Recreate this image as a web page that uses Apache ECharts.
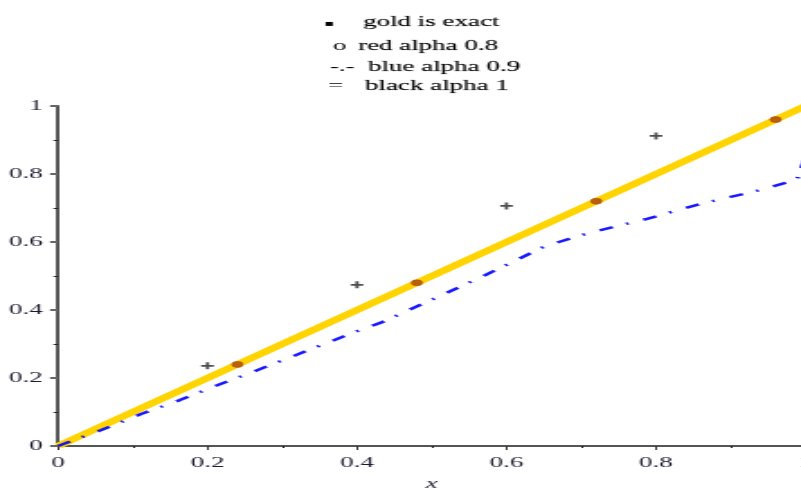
<!DOCTYPE html>
<html>
<head>
<meta charset="utf-8">
<script src="https://cdn.jsdelivr.net/npm/echarts@6/dist/echarts.min.js"></script>
<style>
  html, body { margin: 0; padding: 0; background: #fff; overflow: hidden; }
  #wrap { width: 801px; height: 490px; overflow: hidden; }
  /* the plot is laid out narrow and widened horizontally */
  #chart { width: 460px; height: 490px; transform: scaleX(1.8); transform-origin: 0 0; }
</style>
</head>
<body>
<div id="wrap"><div id="chart"></div></div>
<script>
// exact solution (gold)
const exactX = [0, 1];
const exactY = [0, 1];
// red approximation, alpha 0.8
const redX = [0.24, 0.48, 0.72, 0.96];
const redY = [0.24, 0.48, 0.72, 0.96];
// blue approximation, alpha 0.9
const blueX = [0, 0.058, 0.111, 0.163, 0.21, 0.268, 0.335, 0.404, 0.431, 0.505, 0.572, 0.605, 0.652, 0.709, 0.788, 0.859, 0.934, 0.973, 0.989, 1.0];
const blueY = [0, 0.047, 0.094, 0.135, 0.176, 0.224, 0.282, 0.341, 0.362, 0.435, 0.503, 0.538, 0.588, 0.626, 0.668, 0.712, 0.75, 0.774, 0.785, 0.85];
// black approximation, alpha 1
const blackX = [0.2, 0.4, 0.6, 0.8];
const blackY = [0.236, 0.474, 0.706, 0.912];
// legend rows
const legendSymbols = ['\u25AA', 'o', '-.-', '='];
const legendLabels = ['gold is exact', 'red alpha 0.8', 'blue alpha 0.9', 'black alpha 1'];
const axisName = 'x';

const SX = 1.8;
const W = 460;
const zip = (xs, ys) => xs.map((x, i) => [x, ys[i]]);
const serif = '"Liberation Serif", "Times New Roman", serif';
const textColor = '#1c1c30';

// legend text block (x positions given in widened pixels)
const symLeft = [324, 333, 330, 328];
const labelLeft = [363, 358, 368, 365];
const rowY = [22, 46, 67, 86];
const legendGraphics = [];
legendSymbols.forEach((s, i) => {
  legendGraphics.push({
    type: 'text', x: symLeft[i] / SX, y: rowY[i] + (i === 0 ? 2 : 0),
    style: { text: s, fill: '#000', align: 'left', verticalAlign: 'middle',
      fontFamily: i === 0 ? 'DejaVu Sans' : serif, fontSize: i === 0 ? 8 : 15 }
  });
  legendGraphics.push({
    type: 'text', x: labelLeft[i] / SX, y: rowY[i],
    style: { text: legendLabels[i], fill: '#000', align: 'left', verticalAlign: 'middle',
      fontFamily: serif, fontSize: 15, stroke: 'rgba(0,0,0,0.35)', lineWidth: 0.4 }
  });
});

const crossPath = 'path://M3,0H5V3H8V5H5V8H3V5H0V3H3Z';

const chart = echarts.init(document.getElementById('chart'));
chart.setOption({
  animation: false,
  backgroundColor: '#fff',
  grid: { left: 58 / SX, right: W - 805.5 / SX, top: 106, bottom: 44, outerBoundsMode: 'none', containLabel: false },
  xAxis: {
    type: 'value', min: 0, max: 1, interval: 0.2,
    name: axisName, nameLocation: 'middle', nameGap: 31,
    nameTextStyle: { fontFamily: serif, fontStyle: 'italic', fontSize: 15, color: textColor },
    axisLine: { show: true, onZero: true, lineStyle: { color: '#555', width: 2 } },
    axisTick: { show: true, inside: false, length: 4, lineStyle: { color: '#333', width: 1 } },
    minorTick: { show: true, splitNumber: 2, length: 2, lineStyle: { color: '#222', width: 1 } },
    axisLabel: { margin: 10, fontFamily: serif, fontSize: 15, color: textColor, showMinLabel: true, showMaxLabel: true, hideOverlap: false },
    splitLine: { show: false }
  },
  yAxis: {
    type: 'value', min: 0, max: 1, interval: 0.2,
    axisLine: { show: true, onZero: true, lineStyle: { color: '#555', width: 2 } },
    axisTick: { show: true, inside: false, length: 4.4, lineStyle: { color: '#666', width: 2 } },
    minorTick: { show: true, splitNumber: 2, length: 2.5, lineStyle: { color: '#222', width: 1 } },
    axisLabel: { margin: 8.5, fontFamily: serif, fontSize: 15, color: textColor },
    splitLine: { show: false }
  },
  graphic: legendGraphics,
  series: [
    {
      name: 'gold is exact', type: 'line', data: zip(exactX, exactY),
      showSymbol: false, symbol: 'none', z: 1,
      lineStyle: { color: '#FFD400', width: 6, cap: 'butt' }
    },
    {
      name: 'red alpha 0.8', type: 'scatter', data: zip(redX, redY),
      symbol: 'circle', symbolSize: 6, z: 3,
      itemStyle: { color: 'rgba(140,35,10,0.8)', borderColor: 'rgba(190,70,20,0.8)', borderWidth: 1 }
    },
    {
      name: 'blue alpha 0.9', type: 'line', data: zip(blueX, blueY),
      showSymbol: false, symbol: 'none', z: 2,
      lineStyle: { color: 'rgba(0,0,255,0.9)', width: 2.5, type: [8, 8, 1.5, 9], cap: 'butt' }
    },
    {
      name: 'black alpha 1', type: 'scatter', data: zip(blackX, blackY),
      symbol: crossPath, symbolSize: 7, z: 4,
      itemStyle: { color: '#222' }
    }
  ]
});
</script>
</body>
</html>
